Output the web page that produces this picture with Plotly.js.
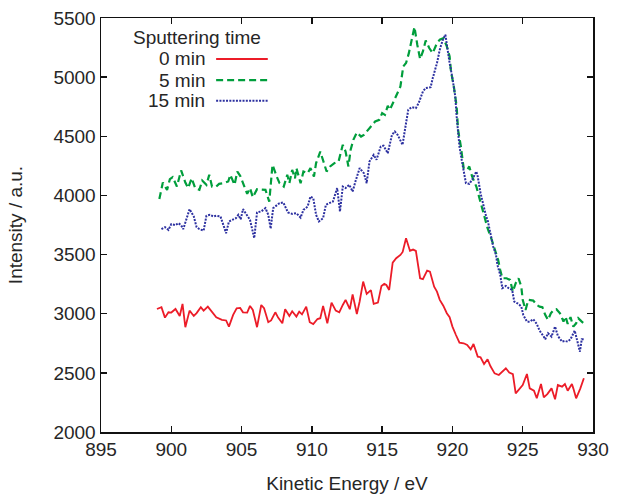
<!DOCTYPE html>
<html>
<head>
<meta charset="utf-8">
<script src="https://cdn.plot.ly/plotly-3.0.1.min.js"></script>
<style>html,body{margin:0;padding:0;background:#fff}#chart{width:618px;height:494px}</style>
</head>
<body>
<div id="chart"></div>
<script>
// Sputtering time 0 min
const energy0 = [898.98, 899.3, 899.55, 899.8, 900.0, 900.3, 900.6, 900.8, 901.0, 901.3,
  901.6, 901.8, 902.1, 902.3, 902.6, 902.9, 903.2, 903.6, 903.9, 904.1,
  904.4, 904.65, 904.9, 905.1, 905.4, 905.6, 905.8, 906.1, 906.4, 906.6,
  906.9, 907.1, 907.4, 907.6, 907.9, 908.1, 908.4, 908.6, 908.9, 909.1,
  909.3, 909.6, 909.85, 910.1, 910.4, 910.6, 910.8, 911.1, 911.4, 911.7,
  911.95, 912.2, 912.4, 912.7, 912.9, 913.2, 913.4, 913.65, 913.9, 914.2,
  914.4, 914.7, 914.95, 915.15, 915.3, 915.5, 915.75, 916.0, 916.3, 916.46,
  916.7, 916.98, 917.2, 917.4, 917.7, 917.9, 918.2, 918.4, 918.7, 918.9,
  919.1, 919.35, 919.6, 919.8, 920.0, 920.25, 920.5, 920.8, 921.05, 921.3,
  921.5, 921.8, 922.0, 922.25, 922.5, 922.7, 923.0, 923.3, 923.5, 923.8,
  924.04, 924.3, 924.5, 924.75, 925.0, 925.3, 925.5, 925.8, 926.0, 926.3,
  926.5, 926.75, 927.05, 927.3, 927.5, 927.8, 928.0, 928.2, 928.5, 928.6,
  928.8, 929.1, 929.35];
const intensity0 = [3040, 3055, 2967, 3012, 3010, 3040, 2981, 3083, 2886, 3026,
  2981, 3005, 3055, 3026, 3060, 3012, 2970, 2948, 2943, 2891,
  2990, 3046, 3049, 3012, 3010, 3066, 3032, 2886, 3074, 3046,
  2928, 2943, 3012, 2967, 2919, 3038, 2981, 3021, 2976, 3018,
  2995, 3060, 2928, 2912, 2955, 2962, 3066, 2919, 3094, 3026,
  3012, 3074, 3117, 3038, 3164, 2998, 3103, 3272, 3167, 3200,
  3083, 3094, 3235, 3252, 3243, 3201, 3432, 3469, 3497, 3522,
  3638, 3531, 3542, 3531, 3300, 3292, 3365, 3356, 3229, 3187,
  3117, 3068, 3004, 2971, 2891, 2820, 2755, 2750, 2736, 2699,
  2744, 2637, 2632, 2575, 2615, 2558, 2496, 2482, 2502, 2539,
  2502, 2490, 2327, 2361, 2397, 2490, 2369, 2349, 2285, 2406,
  2293, 2321, 2369, 2276, 2397, 2383, 2406, 2349, 2406, 2369,
  2285, 2369, 2454];

// Sputtering time 5 min
const energy5 = [899.15, 899.4, 899.7, 899.9, 900.1, 900.4, 900.7, 901.0, 901.2, 901.45,
  901.7, 902.0, 902.2, 902.5, 902.7, 902.9, 903.2, 903.4, 903.75, 904.05,
  904.2, 904.5, 904.7, 904.9, 905.2, 905.4, 905.6, 905.8, 906.1, 906.4,
  906.7, 906.97, 907.2, 907.5, 907.7, 908.0, 908.25, 908.4, 908.6, 908.8,
  908.9, 909.2, 909.4, 909.7, 909.9, 910.15, 910.3, 910.6, 910.8, 911.05,
  911.3, 911.6, 911.9, 912.2, 912.4, 912.6, 912.76, 912.95, 913.2, 913.5,
  913.7, 913.9, 914.2, 914.5, 914.8, 915.0, 915.2, 915.4, 915.55, 915.8,
  916.0, 916.3, 916.5, 916.7, 916.9, 917.1, 917.3, 917.5, 917.7, 917.9,
  918.1, 918.35, 918.6, 918.9, 919.1, 919.35, 919.6, 919.8, 919.9, 920.1,
  920.3, 920.4, 920.6, 920.8, 921.05, 921.2, 921.4, 921.7, 921.9, 922.1,
  922.3, 922.5, 922.8, 923.0, 923.25, 923.4, 923.55, 923.85, 924.1, 924.3,
  924.5, 924.7, 924.9, 925.0, 925.2, 925.4, 925.75, 926.0, 926.2, 926.4,
  926.6, 926.8, 927.0, 927.2, 927.4, 927.65, 927.9, 928.05, 928.2, 928.4,
  928.6, 928.8, 928.95, 929.2, 929.4];
const intensity5 = [3969, 4109, 4047, 4138, 4155, 4075, 4211, 4109, 4062, 4146,
  4062, 4047, 4126, 4090, 4174, 4075, 4075, 4098, 4104, 4118,
  4174, 4090, 4202, 4166, 4075, 4013, 4062, 3985, 4053, 4050,
  4047, 3948, 4259, 4160, 4104, 4075, 4174, 4104, 4216, 4145,
  4231, 4104, 4202, 4188, 4231, 4160, 4273, 4371, 4301, 4202,
  4245, 4273, 4287, 4428, 4371, 4245, 4386, 4470, 4532, 4498,
  4512, 4541, 4583, 4625, 4639, 4696, 4681, 4758, 4724, 4794,
  4851, 4921, 5090, 5119, 5203, 5316, 5424, 5274, 5153, 5217,
  5310, 5246, 5203, 5288, 5316, 5330, 5260, 5175, 5048, 4921,
  4752, 4555, 4414, 4231, 4216, 4245, 4160, 4075, 3991, 3906,
  3821, 3723, 3624, 3554, 3455, 3370, 3300, 3300, 3286, 3187,
  3258, 3300, 3229, 3117, 3032, 3117, 3111, 3074, 3060, 3055,
  2990, 2948, 3004, 3032, 3038, 3004, 2933, 2976, 2914, 2971,
  2891, 2919, 2962, 2933, 2914];

// Sputtering time 15 min
const energy15 = [899.3, 899.55, 899.8, 900.0, 900.3, 900.5, 900.7, 900.85, 901.1, 901.3,
  901.6, 901.8, 902.0, 902.3, 902.5, 902.75, 903.0, 903.2, 903.5, 903.65,
  903.9, 904.1, 904.4, 904.6, 904.77, 904.94, 905.1, 905.4, 905.6, 905.9,
  906.1, 906.4, 906.7, 906.9, 907.07, 907.25, 907.5, 907.7, 907.97, 908.3,
  908.6, 908.9, 909.2, 909.4, 909.7, 909.9, 910.1, 910.3, 910.5, 910.8,
  911.0, 911.3, 911.5, 911.8, 912.0, 912.2, 912.4, 912.66, 912.9, 913.1,
  913.4, 913.7, 913.9, 914.1, 914.4, 914.6, 914.9, 915.1, 915.4, 915.7,
  915.9, 916.1, 916.45, 916.7, 916.86, 917.1, 917.4, 917.6, 917.9, 918.1,
  918.45, 918.6, 918.9, 919.1, 919.3, 919.5, 919.6, 919.8, 920.0, 920.2,
  920.3, 920.4, 920.5, 920.7, 920.96, 921.2, 921.4, 921.7, 921.8, 922.0,
  922.2, 922.4, 922.5, 922.7, 922.9, 923.1, 923.2, 923.4, 923.55, 923.8,
  924.0, 924.25, 924.4, 924.7, 924.9, 925.04, 925.3, 925.5, 925.75, 926.0,
  926.2, 926.5, 926.6, 926.8, 927.05, 927.3, 927.5, 927.8, 928.0, 928.2,
  928.4, 928.7, 928.8, 929.07, 929.2, 929.4];
const intensity15 = [3715, 3732, 3709, 3757, 3749, 3766, 3749, 3715, 3808, 3884,
  3822, 3732, 3715, 3703, 3828, 3836, 3822, 3828, 3822, 3766,
  3681, 3780, 3794, 3808, 3836, 3799, 3884, 3828, 3794, 3639,
  3856, 3865, 3893, 3836, 3720, 3893, 3921, 3935, 3940, 3856,
  3844, 3850, 3813, 3878, 3906, 3991, 3977, 3836, 3780, 3808,
  3921, 3940, 3949, 4062, 3864, 4075, 4062, 4090, 4033, 4118,
  4231, 4188, 4104, 4287, 4343, 4301, 4414, 4420, 4357, 4513,
  4541, 4513, 4428, 4612, 4724, 4746, 4738, 4781, 4879, 4908,
  4915, 4992, 5119, 5232, 5310, 5359, 5274, 5119, 4992, 4837,
  4667, 4555, 4414, 4273, 4104, 4098, 4132, 4202, 4160, 4019,
  3906, 3821, 3794, 3681, 3568, 3497, 3413, 3328, 3216, 3235,
  3216, 3201, 3102, 3083, 3060, 2990, 2933, 2933, 2953, 2914,
  2857, 2806, 2784, 2835, 2806, 2891, 2812, 2764, 2770, 2764,
  2784, 2857, 2806, 2679, 2784, 2784];

const seriesNames = ['0 min', '5 min', '15 min'];
const legendTitle = 'Sputtering time';
const xTitle = 'Kinetic Energy / eV';
const yTitle = 'Intensity / a.u.';

const RED = 'rgb(236,28,40)';
const GREEN = 'rgb(0,158,60)';
const BLUE = 'rgb(44,48,160)';
const styles = [
  {color: RED, width: 1.8, dash: 'solid'},
  {color: GREEN, width: 2.2, dash: '7px,4px'},
  {color: BLUE, width: 2, dash: '2px,1.3px'}
];
const xs = [energy0, energy5, energy15];
const ys = [intensity0, intensity5, intensity15];

const traces = xs.map((x, i) => ({
  x: x, y: ys[i], type: 'scatter', mode: 'lines', name: seriesNames[i],
  line: {color: styles[i].color, width: styles[i].width, dash: styles[i].dash},
  showlegend: false, hoverinfo: 'skip'
}));

const FONT = 'Liberation Sans, Arial, sans-serif';
const TXT = '#262626';

// legend (text left, sample right) drawn in paper coordinates
const legX = 0.2155, legLine0 = 0.234, legLine1 = 0.339;
const legY = [0.901, 0.850, 0.800];
const annotations = [{
  xref: 'paper', yref: 'paper', x: 0.195, y: 0.952, xanchor: 'center', yanchor: 'middle',
  text: legendTitle, showarrow: false, font: {family: FONT, size: 19, color: TXT}
}];
const shapes = [];
seriesNames.forEach((n, i) => {
  annotations.push({xref: 'paper', yref: 'paper', x: legX, y: legY[i], xanchor: 'right', yanchor: 'middle',
    text: n, showarrow: false, font: {family: FONT, size: 19, color: TXT}});
  shapes.push({type: 'line', xref: 'paper', yref: 'paper', x0: legLine0, x1: legLine1, y0: legY[i], y1: legY[i],
    line: {color: styles[i].color, width: styles[i].width, dash: styles[i].dash}});
});

const axisCommon = {
  showgrid: false, zeroline: false, showline: true, linecolor: '#111', linewidth: 1.5,
  mirror: 'ticks', ticks: 'inside', ticklen: 6, tickwidth: 1.3, tickcolor: '#111',
  tickfont: {family: FONT, size: 19, color: TXT}
};

const layout = {
  width: 618, height: 494,
  margin: {l: 101, r: 25, t: 18, b: 62},
  paper_bgcolor: '#fff', plot_bgcolor: '#fff',
  font: {family: FONT, size: 19, color: TXT},
  xaxis: Object.assign({}, axisCommon, {
    range: [895, 930], dtick: 5, tick0: 895,
    title: {text: xTitle, font: {family: FONT, size: 19, color: TXT}, standoff: 19}
  }),
  yaxis: Object.assign({}, axisCommon, {
    range: [2000, 5500], dtick: 500, tick0: 2000,
    title: {text: yTitle, font: {family: FONT, size: 19, color: TXT}, standoff: 26}
  }),
  annotations: annotations,
  shapes: shapes,
  showlegend: false
};

Plotly.newPlot('chart', traces, layout, {staticPlot: true, displayModeBar: false});
</script>
</body>
</html>
